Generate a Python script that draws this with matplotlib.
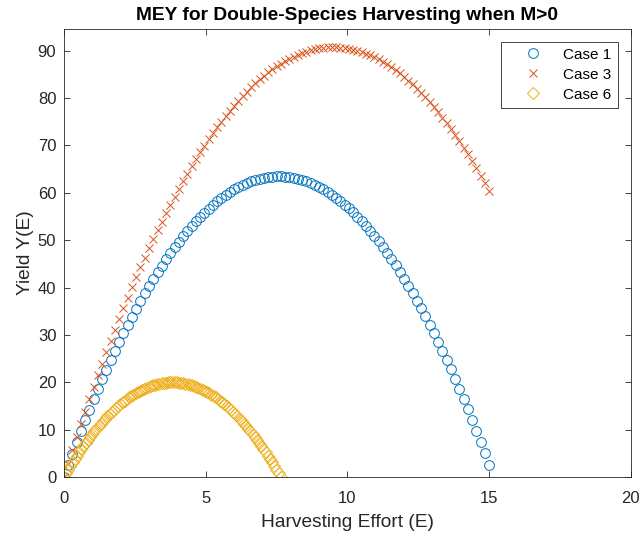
import numpy as np
import matplotlib
matplotlib.use("Agg")
import matplotlib.pyplot as plt

plt.rcParams['font.family'] = ['Liberation Sans', 'DejaVu Sans']

# harvesting effort grids
effort_1 = np.linspace(0, 15, 101)
effort_3 = np.linspace(0, 15, 101)
effort_6 = np.linspace(0, 7.65, 101)

yield_1 = [
    0.00, 2.49, 4.93, 7.31, 9.65, 11.94, 14.18, 16.37, 18.51, 20.60,
    22.64, 24.63, 26.57, 28.46, 30.30, 32.09, 33.84, 35.53, 37.17, 38.76,
    40.31, 41.80, 43.24, 44.64, 45.98, 47.27, 48.52, 49.71, 50.86, 51.95,
    53.00, 54.00, 54.94, 55.84, 56.68, 57.48, 58.23, 58.93, 59.57, 60.17,
    60.72, 61.22, 61.67, 62.07, 62.41, 62.72, 62.96, 63.17, 63.32, 63.42,
    63.47, 63.47, 63.42, 63.32, 63.18, 62.98, 62.73, 62.43, 62.09, 61.69,
    61.24, 60.75, 60.20, 59.61, 58.96, 58.27, 57.52, 56.73, 55.88, 54.99,
    54.05, 53.06, 52.01, 50.92, 49.78, 48.59, 47.34, 46.05, 44.71, 43.32,
    41.88, 40.39, 38.85, 37.26, 35.62, 33.93, 32.19, 30.41, 28.56, 26.67,
    24.74, 22.75, 20.71, 18.63, 16.49, 14.31, 12.07, 9.78, 7.45, 5.06,
    2.62,
]

yield_3 = [
    0.00, 2.84, 5.64, 8.39, 11.10, 13.76, 16.38, 18.95, 21.47, 23.95,
    26.39, 28.78, 31.12, 33.42, 35.68, 37.89, 40.05, 42.17, 44.24, 46.27,
    48.25, 50.19, 52.09, 53.93, 55.74, 57.49, 59.20, 60.87, 62.49, 64.07,
    65.60, 67.08, 68.52, 69.92, 71.27, 72.58, 73.83, 75.05, 76.22, 77.34,
    78.42, 79.45, 80.44, 81.39, 82.28, 83.13, 83.94, 84.70, 85.42, 86.09,
    86.72, 87.30, 87.83, 88.32, 88.77, 89.17, 89.53, 89.84, 90.10, 90.32,
    90.49, 90.62, 90.71, 90.75, 90.74, 90.69, 90.59, 90.45, 90.26, 90.02,
    89.75, 89.42, 89.06, 88.64, 88.19, 87.68, 87.13, 86.53, 85.89, 85.21,
    84.48, 83.71, 82.89, 82.02, 81.10, 80.15, 79.15, 78.10, 77.01, 75.87,
    74.69, 73.46, 72.18, 70.87, 69.50, 68.10, 66.64, 65.15, 63.60, 62.01,
    60.37,
]

yield_6 = [
    0.00, 0.79, 1.57, 2.33, 3.07, 3.80, 4.51, 5.21, 5.89, 6.55,
    7.20, 7.83, 8.45, 9.05, 9.63, 10.20, 10.75, 11.29, 11.81, 12.31,
    12.80, 13.27, 13.73, 14.17, 14.59, 15.00, 15.39, 15.77, 16.13, 16.47,
    16.80, 17.11, 17.41, 17.69, 17.95, 18.20, 18.43, 18.65, 18.85, 19.03,
    19.20, 19.35, 19.49, 19.61, 19.71, 19.80, 19.87, 19.93, 19.97, 19.99,
    20.00, 19.99, 19.97, 19.93, 19.87, 19.80, 19.71, 19.61, 19.49, 19.35,
    19.20, 19.03, 18.85, 18.65, 18.43, 18.20, 17.95, 17.69, 17.41, 17.11,
    16.80, 16.47, 16.13, 15.77, 15.39, 15.00, 14.59, 14.17, 13.73, 13.27,
    12.80, 12.31, 11.81, 11.29, 10.75, 10.20, 9.63, 9.05, 8.45, 7.83,
    7.20, 6.55, 5.89, 5.21, 4.51, 3.80, 3.07, 2.33, 1.57, 0.79,
    0.00,
]

fig = plt.figure(figsize=(6.43, 5.38), dpi=100)
ax = fig.add_axes([0.0995, 0.1134, 0.8815, 0.8336])

ax.plot(effort_1, yield_1, 'o', mfc='none', mec='#0072BD', ms=7, mew=0.7, label='Case 1')
ax.plot(effort_3, yield_3, 'x', color='#D95319', ms=5.5, mew=0.7, label='Case 3')
ax.plot(effort_6, yield_6, 'D', mfc='none', mec='#EDB120', ms=6, mew=0.7, label='Case 6')

ax.set_xlim(0, 20)
ax.set_ylim(0, 94.7)
ax.set_xticks([0, 5, 10, 15, 20])
ax.set_yticks(np.arange(0, 91, 10))
ax.tick_params(direction='in', top=True, right=True, labelsize=12, colors='#262626', length=4, width=0.6)
ax.tick_params(axis='x', pad=10)
ax.tick_params(axis='y', pad=5.5)
for s in ax.spines.values():
    s.set_color('#262626')
    s.set_linewidth(0.6)

ax.set_title('MEY for Double-Species Harvesting when M>0', fontsize=13.8, fontweight='bold', color='black', pad=6)
ax.set_xlabel('Harvesting Effort (E)', fontsize=13.8, color='#262626', labelpad=6)
ax.set_ylabel('Yield Y(E)', fontsize=13.8, color='#262626', labelpad=3)

leg = ax.legend(loc='upper right', fontsize=11, fancybox=False, edgecolor='#262626',
                framealpha=1, borderaxespad=0.85, handlelength=3.4, handletextpad=0.3,
                labelspacing=0.4)
leg.get_frame().set_linewidth(0.6)

fig.savefig('out.png', dpi=100)
